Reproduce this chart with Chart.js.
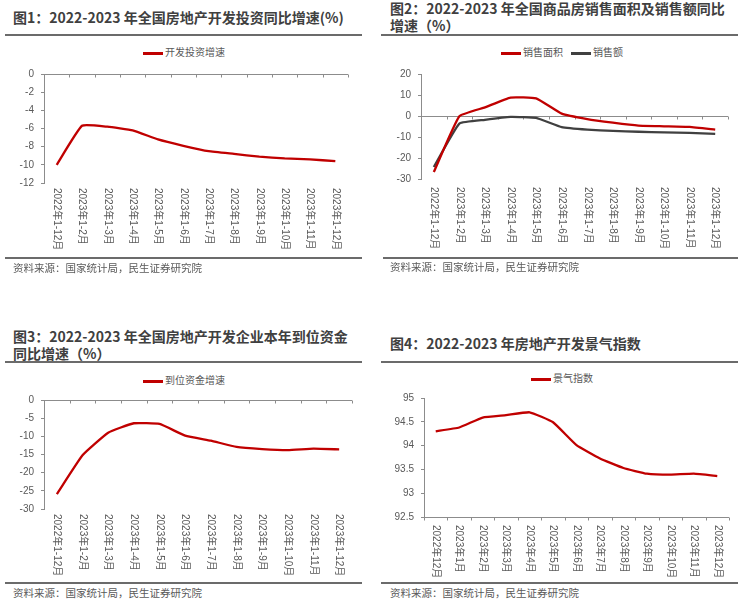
<!DOCTYPE html>
<html>
<head>
<meta charset="utf-8">
<script src="https://cdn.jsdelivr.net/npm/chart.js@4.4.1/dist/chart.umd.min.js"></script>
<style>
  html, body { margin: 0; padding: 0; background: #fff; }
  body { width: 742px; height: 602px; position: relative; overflow: hidden; font-family: "Noto Sans CJK SC", sans-serif; }
  .t { position: absolute; font-weight: bold; font-size: 14px; line-height: 17px; color: #404040; white-space: nowrap; }
  .rule { position: absolute; height: 2px; background: #6b6b6b; }
  .src { position: absolute; font-size: 10.5px; line-height: 14px; color: #595959; white-space: nowrap; }
  .lg { position: absolute; font-size: 10px; line-height: 12px; color: #595959; white-space: nowrap; }
  .lg i { display: inline-block; width: 20px; height: 2.5px; vertical-align: middle; margin-right: 2px; }
  .lg b { font-weight: normal; margin-right: 8px; }
  canvas { position: absolute; }
</style>
</head>
<body>
<div class="t" style="left:13px;top:9px">图1：2022-2023 年全国房地产开发投资同比增速(%)</div>
<div class="rule" style="left:5px;top:34px;width:357px"></div>
<div class="lg" style="left:143px;top:46px"><i style="background:#c00000"></i>开发投资增速</div>
<canvas id="c1" width="371" height="200" style="left:0;top:60px"></canvas>
<div class="rule" style="left:5px;top:257px;width:357px"></div>
<div class="src" style="left:13px;top:261px">资料来源：国家统计局，民生证券研究院</div>

<div class="t" style="left:390px;top:0px">图2：2022-2023 年全国商品房销售面积及销售额同比<br>增速（%）</div>
<div class="rule" style="left:381px;top:34px;width:357px"></div>
<div class="lg" style="left:501px;top:46px"><i style="background:#c00000"></i><b>销售面积</b><i style="background:#404040"></i>销售额</div>
<canvas id="c2" width="371" height="200" style="left:371px;top:60px"></canvas>
<div class="rule" style="left:383px;top:257px;width:355px"></div>
<div class="src" style="left:390px;top:260px">资料来源：国家统计局，民生证券研究院</div>

<div class="t" style="left:13px;top:328px;line-height:16.5px">图3：2022-2023 年全国房地产开发企业本年到位资金<br>同比增速（%）</div>
<div class="rule" style="left:5px;top:361px;width:357px"></div>
<div class="lg" style="left:143px;top:374px"><i style="background:#c00000"></i>到位资金增速</div>
<canvas id="c3" width="371" height="195" style="left:0;top:385px"></canvas>
<div class="rule" style="left:5px;top:582px;width:357px"></div>
<div class="src" style="left:13px;top:586px">资料来源：国家统计局，民生证券研究院</div>

<div class="t" style="left:390px;top:335px">图4：2022-2023 年房地产开发景气指数</div>
<div class="rule" style="left:381px;top:361px;width:357px"></div>
<div class="lg" style="left:531px;top:372px"><i style="background:#c00000"></i>景气指数</div>
<canvas id="c4" width="371" height="195" style="left:371px;top:385px"></canvas>
<div class="rule" style="left:381px;top:582px;width:357px"></div>
<div class="src" style="left:390px;top:586px">资料来源：国家统计局，民生证券研究院</div>

<script>
  // 累计同比 x 轴
  const labelsYtd = ["2022年1-12月", "2023年1-2月", "2023年1-3月", "2023年1-4月", "2023年1-5月", "2023年1-6月",
    "2023年1-7月", "2023年1-8月", "2023年1-9月", "2023年1-10月", "2023年1-11月", "2023年1-12月"];
  // 月度 x 轴
  const labelsMonth = ["2022年12月", "2023年1月", "2023年2月", "2023年3月", "2023年4月", "2023年5月", "2023年6月",
    "2023年7月", "2023年8月", "2023年9月", "2023年10月", "2023年11月", "2023年12月"];

  const investYoy = [-10.0, -5.7, -5.8, -6.2, -7.2, -7.9, -8.5, -8.8, -9.1, -9.3, -9.4, -9.6];
  const salesArea = [-26.7, -0.1, 4.1, 8.8, 8.4, 1.1, -1.5, -3.2, -4.6, -4.9, -5.2, -6.5];
  const salesAmount = [-24.3, -3.6, -1.8, -0.4, -0.9, -5.3, -6.5, -7.1, -7.5, -7.8, -8.0, -8.5];
  const fundsYoy = [-25.9, -15.2, -9.0, -6.4, -6.6, -9.8, -11.2, -12.9, -13.5, -13.8, -13.4, -13.6];
  const climateIndex = [94.30, 94.38, 94.59, 94.64, 94.70, 94.49, 94.01, 93.73, 93.53, 93.41, 93.39, 93.41, 93.36];

  const ticks1 = [0, -2, -4, -6, -8, -10, -12];
  const ticks2 = [20, 10, 0, -10, -20, -30];
  const ticks3 = [0, -5, -10, -15, -20, -25, -30];
  const ticks4 = [95, 94.5, 94, 93.5, 93, 92.5];

  const RED = "#c00000";
  const GRAY = "#404040";
  const AXIS = "#8c8c8c";
  const TXT = "#595959";
  const FONT = '"Liberation Sans", "Noto Sans CJK SC", sans-serif';

  // x 轴画在指定数值处，标签放在底部并顺时针竖排
  const lowAxis = {
    id: "lowAxis",
    beforeDatasetsDraw(chart, args, o) {
      const { ctx, chartArea } = chart;
      const xs = chart.scales.x;
      const ys = chart.scales.y;
      const ay = Math.round(ys.getPixelForValue(o.at)) + 0.5;
      ctx.save();
      ctx.strokeStyle = AXIS;
      ctx.lineWidth = 1;
      ctx.beginPath();
      ctx.moveTo(chartArea.left, ay);
      ctx.lineTo(chartArea.right, ay);
      const n = chart.data.labels.length;
      for (let i = 0; i <= n; i++) {
        const px = Math.round(xs.getPixelForValue(i - 0.5)) + 0.5;
        ctx.moveTo(px, ay);
        ctx.lineTo(px, ay + o.tick);
      }
      ctx.stroke();
      ctx.fillStyle = TXT;
      ctx.font = "10px " + FONT;
      ctx.textAlign = "left";
      ctx.textBaseline = "middle";
      chart.data.labels.forEach((lab, i) => {
        ctx.save();
        ctx.translate(xs.getPixelForValue(i), chartArea.bottom + o.gap);
        ctx.rotate(Math.PI / 2);
        ctx.fillText(lab, 0, 0);
        ctx.restore();
      });
      ctx.restore();
    },
  };

  function makeChart(id, labels, series, ticks, pad, yWidth, axisAt, gap) {
    return new Chart(document.getElementById(id), {
      type: "line",
      data: {
        labels: labels,
        datasets: series.map((s) => ({
          label: s.label,
          data: s.data,
          borderColor: s.color,
          backgroundColor: s.color,
          borderWidth: 2.3,
          pointRadius: 0,
          tension: 0.12,
          fill: false,
        })),
      },
      options: {
        responsive: false,
        animation: false,
        layout: { padding: pad },
        plugins: {
          legend: { display: false },
          tooltip: { enabled: false },
          lowAxis: { at: axisAt, gap: gap, tick: 3 },
        },
        scales: {
          x: { type: "category", offset: true, display: false },
          y: {
            min: Math.min(...ticks),
            max: Math.max(...ticks),
            afterBuildTicks: (s) => {
              s.ticks = ticks.map((v) => ({ value: v }));
            },
            afterFit: (s) => {
              s.width = yWidth;
            },
            ticks: {
              autoSkip: false,
              color: TXT,
              padding: 7,
              font: { size: 10, family: FONT },
              callback: (v) => String(v),
            },
            grid: { drawOnChartArea: false, drawTicks: true, tickLength: 3, color: AXIS },
            border: { display: true, color: AXIS, width: 1 },
          },
        },
      },
      plugins: [lowAxis],
    });
  }

  makeChart("c1", labelsYtd, [{ label: "开发投资增速", data: investYoy, color: RED }],
    ticks1, { top: 14, bottom: 77, left: 0, right: 23 }, 44, 0, 5);
  makeChart("c2", labelsYtd, [
      { label: "销售面积", data: salesArea, color: RED },
      { label: "销售额", data: salesAmount, color: GRAY },
    ],
    ticks2, { top: 14, bottom: 81, left: 0, right: 14 }, 50, 0, 8);
  makeChart("c3", labelsYtd, [{ label: "到位资金增速", data: fundsYoy, color: RED }],
    ticks3, { top: 15, bottom: 71, left: 0, right: 19 }, 44, 0, 5);
  makeChart("c4", labelsMonth, [{ label: "景气指数", data: climateIndex, color: RED }],
    ticks4, { top: 8, bottom: 63, left: 0, right: 13 }, 53, 92.5, 8);
</script>
</body>
</html>
